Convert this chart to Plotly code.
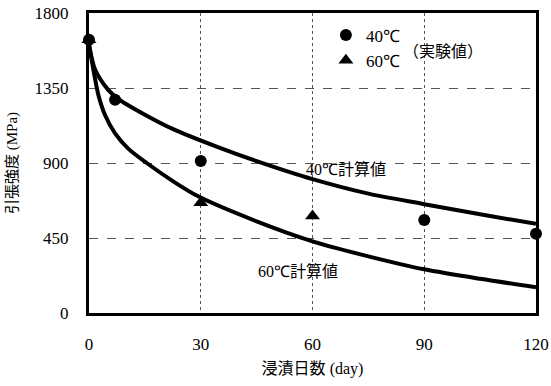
import plotly.graph_objects as go

# measured points
days_40 = [0, 7, 30, 90, 120]
vals_40 = [1640, 1280, 912, 558, 476]
days_60 = [0, 30, 60]
vals_60 = [1640, 662, 582]

# calculated curves
calc_days_40 = [0, 1.6, 5.1, 8, 15, 22.6, 34.6, 45, 60, 75, 90, 105, 120]
calc_vals_40 = [1610, 1462, 1340, 1282, 1190, 1103, 995, 911, 803, 716, 653, 592, 535]
calc_days_60 = [0, 1.5, 2.5, 4.3, 7, 10.6, 15.5, 22.6, 29.3, 45, 60, 75, 90, 105, 120]
calc_vals_60 = [1610, 1420, 1310, 1188, 1078, 985, 900, 790, 700, 550, 430, 340, 262, 205, 155]

x_ticks = [0, 30, 60, 90, 120]
y_ticks = [0, 450, 900, 1350, 1800]

serif = "Liberation Serif"
cjk = "Noto Sans CJK JP"

fig = go.Figure()
for dx, vy in [(calc_days_40, calc_vals_40), (calc_days_60, calc_vals_60)]:
    fig.add_trace(go.Scatter(x=dx, y=vy, mode="lines",
                             line=dict(color="black", width=4, shape="spline", smoothing=0.8),
                             showlegend=False, cliponaxis=False))
fig.add_trace(go.Scatter(x=days_40, y=vals_40, mode="markers", name="40℃",
                         marker=dict(symbol="circle", size=12, color="black"), cliponaxis=False))
fig.add_trace(go.Scatter(x=days_60, y=vals_60, mode="markers", name="60℃",
                         marker=dict(symbol="triangle-up", size=13, color="black"), cliponaxis=False))

fig.update_layout(
    width=551, height=386,
    margin=dict(l=89, r=15, t=13, b=73, autoexpand=False),
    paper_bgcolor="white", plot_bgcolor="white",
    font=dict(family=serif, size=17, color="black"),
    showlegend=True,
    legend=dict(x=0.53, y=0.985, xanchor="left", yanchor="top", bgcolor="rgba(0,0,0,0)",
                font=dict(family=serif, size=17), itemwidth=30, tracegroupgap=0),
    xaxis=dict(range=[0, 120], tickvals=x_ticks, showline=True, linewidth=3, linecolor="black", mirror=True,
               showgrid=True, gridcolor="#555", griddash="dot", gridwidth=1, zeroline=False,
               ticks="", ticklabelstandoff=14, automargin=False,
               tickfont=dict(family=serif, size=17),
               title=dict(text="<span style='font-family:Noto Sans CJK JP'>浸漬日数</span> (day)",
                          font=dict(family=serif, size=16), standoff=10)),
    yaxis=dict(range=[0, 1800], tickvals=y_ticks, showline=True, linewidth=3, linecolor="black", mirror=True,
               showgrid=True, gridcolor="#555", griddash="dash", gridwidth=1, zeroline=False,
               ticks="", ticklabelstandoff=14, automargin=False,
               tickfont=dict(family=serif, size=17),
               title=dict(text="<span style='font-family:Noto Sans CJK JP'>引張強度</span> (MPa)",
                          font=dict(family=serif, size=15), standoff=14)),
)

fig.add_annotation(x=69, y=870, xref="x", yref="y", text="40℃<span style='font-family:Noto Sans CJK JP'>計算値</span>",
                   showarrow=False, font=dict(family=serif, size=16), xanchor="center")
fig.add_annotation(x=56, y=260, xref="x", yref="y", text="60℃<span style='font-family:Noto Sans CJK JP'>計算値</span>",
                   showarrow=False, font=dict(family=serif, size=16), xanchor="center")
fig.add_annotation(x=95, y=1580, xref="x", yref="y", text="<span style='font-family:Noto Sans CJK JP'>（実験値）</span>",
                   showarrow=False, font=dict(family=serif, size=16), xanchor="center")

fig.write_html("out.html", config={"displayModeBar": False},
               post_script="document.body.style.margin='0';document.body.style.overflow='hidden';")
